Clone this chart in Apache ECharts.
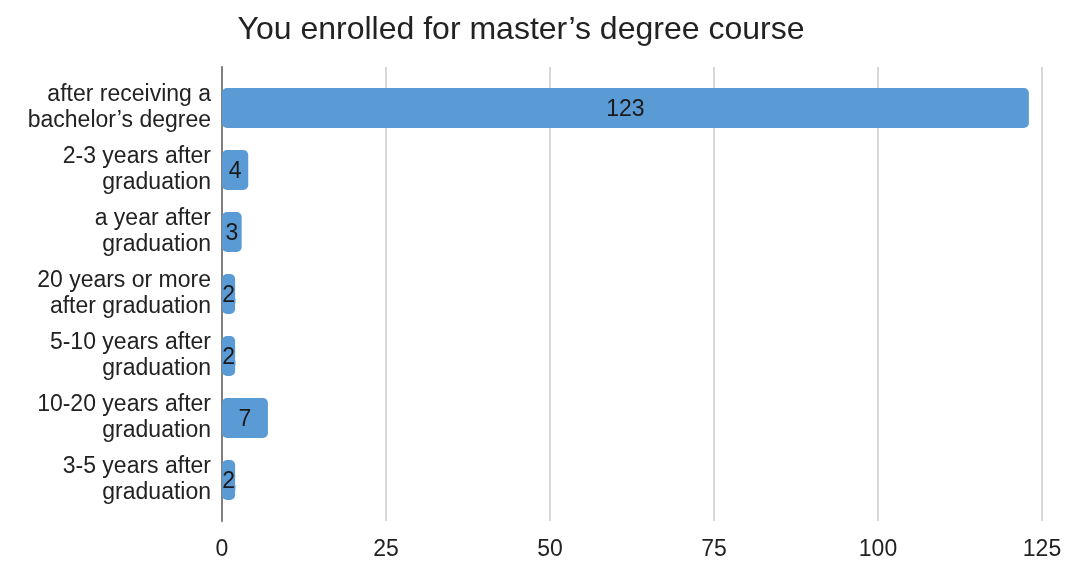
<!DOCTYPE html>
<html>
<head>
<meta charset="utf-8">
<script src="https://cdn.jsdelivr.net/npm/echarts@6/dist/echarts.min.js"></script>
<style>
  html, body { margin: 0; padding: 0; background: #fff; }
  #chart { width: 1081px; height: 562px; }
</style>
</head>
<body>
<div id="chart"></div>
<script>
// Survey answers: when respondents enrolled for a master's degree course
const categories = [
  'after receiving a\nbachelor\u2019s degree',
  '2-3 years after\ngraduation',
  'a year after\ngraduation',
  '20 years or more\nafter graduation',
  '5-10 years after\ngraduation',
  '10-20 years after\ngraduation',
  '3-5 years after\ngraduation'
];
const counts = [123, 4, 3, 2, 2, 7, 2];
const xTicks = [0, 25, 50, 75, 100, 125];

const FONT = '"Liberation Sans", Arial, sans-serif';
const BAR_COLOR = '#5b9bd5';
const TEXT = '#222222';

const chart = echarts.init(document.getElementById('chart'), null, { renderer: 'canvas' });

const xAxisBase = {
  type: 'value',
  min: xTicks[0],
  max: xTicks[xTicks.length - 1],
  interval: xTicks[1] - xTicks[0]
};

chart.setOption({
  animation: false,
  backgroundColor: '#ffffff',
  title: {
    text: 'You enrolled for master\u2019s degree course',
    left: 516,
    textAlign: 'center',
    top: 9,
    textStyle: { fontFamily: FONT, fontSize: 32, fontWeight: 'normal', color: TEXT }
  },
  grid: [
    // frame: value gridlines and the vertical axis line
    { left: 222, right: 39, top: 67, bottom: 41 },
    // bars
    { left: 222, right: 39, top: 77, bottom: 51 }
  ],
  xAxis: [
    Object.assign({}, xAxisBase, {
      gridIndex: 0,
      axisLine: { show: false },
      axisTick: { show: false },
      axisLabel: { fontFamily: FONT, fontSize: 23, color: TEXT, margin: 17 },
      splitLine: { show: true, lineStyle: { color: '#d9d9d9', width: 2 } }
    }),
    Object.assign({}, xAxisBase, {
      gridIndex: 1,
      show: false,
      splitLine: { show: false }
    })
  ],
  yAxis: [
    {
      type: 'category',
      gridIndex: 0,
      data: [''],
      axisLine: { show: true, lineStyle: { color: '#7f7f7f', width: 2 } },
      axisTick: { show: false },
      axisLabel: { show: false },
      splitLine: { show: false }
    },
    {
      type: 'category',
      gridIndex: 1,
      data: categories,
      inverse: true,
      axisLine: { show: false },
      axisTick: { show: false },
      axisLabel: {
        fontFamily: FONT, fontSize: 23, color: TEXT,
        lineHeight: 26, margin: 11, align: 'right'
      }
    }
  ],
  series: [
    {
      type: 'bar',
      xAxisIndex: 1,
      yAxisIndex: 1,
      data: counts,
      barWidth: 40,
      itemStyle: { color: BAR_COLOR, borderRadius: 5 },
      label: {
        show: true,
        position: 'inside',
        offset: [0, 2],
        fontFamily: FONT,
        fontSize: 23,
        color: '#1a1a1a',
        textBorderColor: BAR_COLOR,
        textBorderWidth: 3
      }
    }
  ]
});
</script>
</body>
</html>
